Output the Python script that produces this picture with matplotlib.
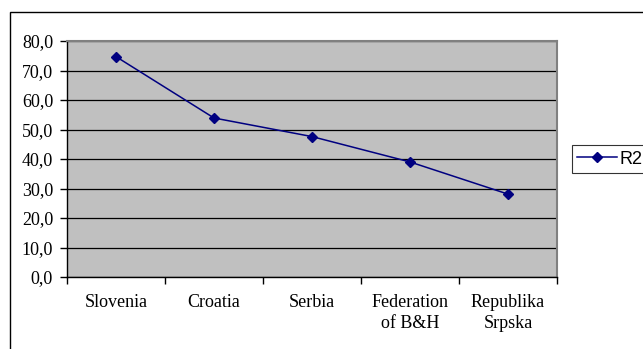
import numpy as np
import matplotlib
matplotlib.use("Agg")
import matplotlib.pyplot as plt
from matplotlib.patches import Rectangle

# data
regions = ["Slovenia", "Croatia", "Serbia", "Federation\nof B&H", "Republika\nSrpska"]
r2 = [74.7, 53.9, 47.6, 39.0, 28.1]
yticks = [0, 10, 20, 30, 40, 50, 60, 70, 80]

W, H = 643, 349
fig = plt.figure(figsize=(W / 100, H / 100), dpi=100)
fig.patch.set_facecolor("white")

# outer chart frame (runs off the right and bottom edge)
fig.patches.append(Rectangle((10 / W, -0.1), 1.2, 1.1 - 12 / H,
                             transform=fig.transFigure, fill=False,
                             edgecolor="black", lw=1.0))

# plot area
ax = fig.add_axes([67 / W, 1 - 277 / H, (557 - 67) / W, (277 - 41) / H])
ax.set_facecolor("#C0C0C0")

x = np.arange(len(regions)) + 0.5
ax.plot(x, r2, color="#000080", lw=1.1, marker="D", markersize=5.5,
        markerfacecolor="#000080", markeredgecolor="#000080", label="R2", zorder=3)

ax.set_xlim(0, len(regions))
ax.set_ylim(0, 80)
ax.set_yticks(yticks)
ax.set_yticklabels([f"{v:.1f}".replace(".", ",") for v in yticks],
                   fontfamily="Liberation Serif", fontsize=13)
ax.yaxis.grid(True, color="black", lw=0.9)
ax.set_axisbelow(True)

# category boundaries as major ticks, names on minor ticks
ax.set_xticks(np.arange(len(regions) + 1))
ax.set_xticklabels([])
ax.set_xticks(x, minor=True)
ax.set_xticklabels(regions, minor=True, fontfamily="Liberation Serif", fontsize=13,
                   linespacing=1.3)
ax.tick_params(axis="x", which="minor", length=0, pad=12)
ax.tick_params(axis="x", which="major", direction="out", length=5, width=1)
ax.tick_params(axis="y", direction="out", length=5, width=1, pad=5)

for s in ["top", "right"]:
    ax.spines[s].set_color("#808080")
    ax.spines[s].set_linewidth(1.5)
for s in ["left", "bottom"]:
    ax.spines[s].set_color("black")
    ax.spines[s].set_linewidth(1.0)

leg = fig.legend(loc="center left", bbox_to_anchor=(572 / W, 1 - 159 / H),
                 prop={"family": "Liberation Sans", "size": 13},
                 frameon=True, fancybox=False, edgecolor="black",
                 handlelength=2.2, handletextpad=0.15, borderpad=0.3,
                 borderaxespad=0)
leg.get_frame().set_linewidth(0.8)

fig.savefig("out.png", dpi=100)
